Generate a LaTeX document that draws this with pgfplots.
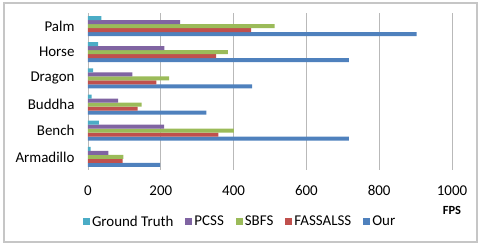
\documentclass[border=0pt]{standalone}
\usepackage{pgfplots}
\pgfplotsset{compat=1.18}
\usepackage{fontspec}
\setmainfont{Carlito}
\definecolor{cGT}{HTML}{4BACC6}
\definecolor{cPCSS}{HTML}{8064A2}
\definecolor{cSBFS}{HTML}{9BBB59}
\definecolor{cFAS}{HTML}{C0504D}
\definecolor{cOur}{HTML}{4F81BD}
\begin{document}
\begin{tikzpicture}
\begin{axis}[
 scale only axis, width=364bp, height=157bp,
 xbar, bar width=4bp,
 xmin=0, xmax=1000, xtick={0,200,...,1000},
 ymin=-0.5, ymax=5.5, ytick={0,...,5},
 yticklabels={Armadillo,Bench,Buddha,Dragon,Horse,Palm},
 xmajorgrids, grid style={draw=gray!55, line width=0.8bp},
 axis line style={draw=none}, major tick length=0,
 tick label style={font=\fontsize{15}{17}\selectfont},
 /pgf/number format/assume math mode=true,
 /pgf/number format/1000 sep={},
 xticklabel style={yshift=-12bp},
 yticklabel style={xshift=-10bp},
 xlabel={FPS},
 every axis x label/.style={at={(rel axis cs:1,0)}, yshift=-40bp, anchor=center, font=\fontsize{12.5}{14}\selectfont\bfseries},
 legend style={at={(0.418,-0.33)}, anchor=center, draw=none, legend columns=-1,
   font=\fontsize{15}{17}\selectfont,
   /tikz/every even column/.append style={column sep=10bp}},
 reverse legend,
 legend image code/.code={\fill[#1] (0bp,-3.5bp) rectangle (7bp,3.5bp);},
 every axis plot/.append style={draw=none},
]
\addplot[fill=cOur, bar shift=-8bp] coordinates {(198,0) (717,1) (325,2) (451,3) (717,4) (903,5)};
\addplot[fill=cFAS, bar shift=-4bp] coordinates {(95,0) (358,1) (136,2) (188,3) (352,4) (448,5)};
\addplot[fill=cSBFS, bar shift=0bp] coordinates {(97,0) (401,1) (147,2) (223,3) (384,4) (513,5)};
\addplot[fill=cPCSS, bar shift=4bp] coordinates {(56,0) (209,1) (83,2) (122,3) (210,4) (253,5)};
\addplot[fill=cGT, bar shift=8bp] coordinates {(7,0) (30,1) (10,2) (14,3) (28,4) (37,5)};
\legend{Our,FASSALSS,SBFS,PCSS,Ground Truth}
\end{axis}
\draw[gray!45, line width=1.2bp] ([shift={(-84bp,-72bp)}]current axis.south west) rectangle ([shift={(25bp,10bp)}]current axis.north east);
\path ([shift={(-88bp,-75bp)}]current axis.south west) rectangle ([shift={(28bp,13bp)}]current axis.north east);
\end{tikzpicture}
\end{document}
